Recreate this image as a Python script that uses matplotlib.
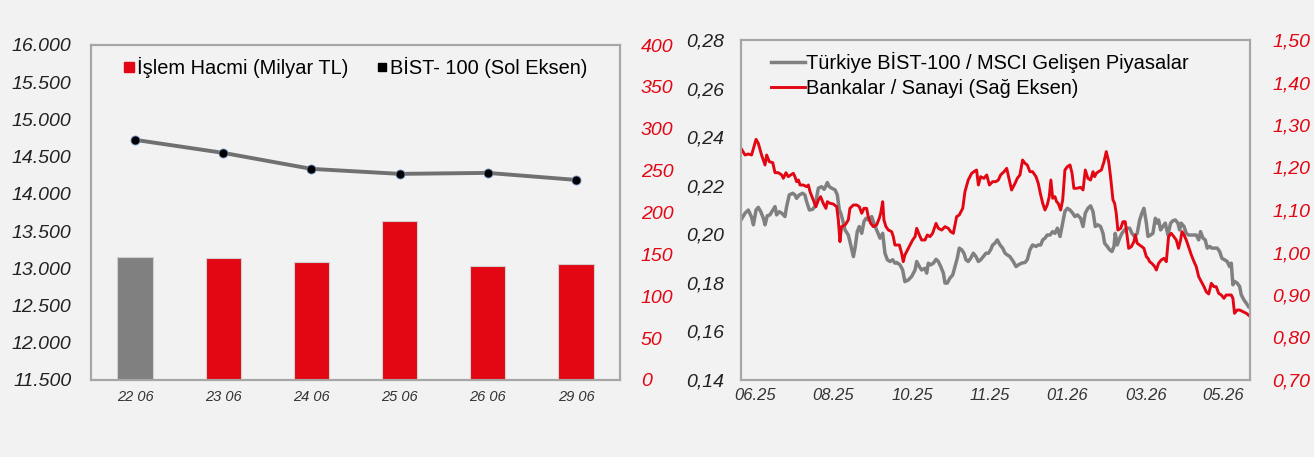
import matplotlib
matplotlib.use("Agg")
import matplotlib.pyplot as plt
from matplotlib.lines import Line2D
from matplotlib.ticker import FuncFormatter

plt.rcParams['font.family'] = ['Liberation Sans', 'DejaVu Sans']

# --- left chart data ---
days = ['22 06', '23 06', '24 06', '25 06', '26 06', '29 06']
volume = [147, 146, 140.5, 189.5, 136, 138.5]        # İşlem Hacmi (Milyar TL)
bist100 = [14726, 14551, 14336, 14269, 14282, 14188]  # BİST-100
bar_colors = ['#808080'] + ['#e30613'] * 5

# --- right chart data (trading-day index, value) ---
gray_d = [0, 2.0, 3.6, 5.2, 6.1, 7.4, 8.5, 9.7, 11.0, 11.8, 12.9, 14.2, 15.9, 16.7, 17.5, 18.8,
          20.0, 21.6, 22.4, 23.7, 25.4, 26.5, 27.3, 28.6, 30.3, 31.4, 32.2, 33.6, 35.2, 36.3,
          38.0, 39.6, 40.8, 41.7, 42.4, 43.4, 44.5, 46.2, 47.3, 48.3, 49.0, 49.9, 51.1, 52.7,
          53.9, 55.2, 56.0, 57.1, 58.1, 59.3, 60.4, 61.4, 62.5, 63.4, 64.2, 65.0, 66.6, 68.3,
          69.6, 70.7, 71.9, 73.2, 74.5, 75.6, 76.5, 78.1, 79.4, 80.5, 82.2, 83.8, 85.5, 86.3,
          87.6, 88.7, 90.4, 91.2, 92.0, 93.1, 94.5, 95.8, 96.9, 98.1, 99.4, 100.2, 101.3, 102.6,
          104.0, 105.1, 106.2, 107.2, 108.4, 109.5, 110.5, 111.6, 112.8, 114.1, 115.4, 116.6,
          117.7, 119.0, 120.3, 121.5, 122.6, 123.6, 124.7, 125.9, 127.2, 128.5, 129.7, 130.8,
          132.1, 133.7, 135.1, 136.2, 137.8, 139.5, 140.6, 141.9, 143.2, 144.9, 146.0, 147.2,
          148.2, 149.3, 150.4, 151.8, 153.1, 154.2, 155.4, 156.7, 158.0, 159.1, 160.3, 161.6,
          162.9, 164.0, 165.2, 166.8, 168.0, 169.1, 170.4, 171.7, 172.9, 174.0, 175.3, 176.6,
          177.8, 178.6, 179.9, 181.1, 182.2, 183.2, 183.8, 184.8, 186.0, 187.1, 188.4, 189.7,
          190.9, 192.0, 193.3, 194.6, 195.8, 196.9, 197.9, 199.1, 199.9, 201.2, 202.3, 203.5,
          204.5, 205.1, 206.1, 207.2, 208.4, 209.7, 211.0, 212.2, 213.3, 214.6, 215.4, 216.2,
          217.6, 218.7, 219.8, 221.2, 222.5, 223.6, 224.8, 225.7, 226.9, 228.0, 229.0, 230.2,
          231.3, 232.6, 233.9, 235.1, 236.2, 237.5, 238.8, 240.0, 240.8, 241.6, 242.4, 243.7,
          244.9, 245.7, 247.0, 248.2, 249.3]
gray_v = [0.2059, 0.2087, 0.2100, 0.2070, 0.2039, 0.2100, 0.2111, 0.2093, 0.2066, 0.2039, 0.2076,
          0.2080, 0.2103, 0.2114, 0.2080, 0.2093, 0.2087, 0.2073, 0.2114, 0.2162, 0.2169, 0.2162,
          0.2148, 0.2162, 0.2169, 0.2162, 0.2135, 0.2100, 0.2103, 0.2114, 0.2190, 0.2196, 0.2185,
          0.2199, 0.2213, 0.2196, 0.2190, 0.2183, 0.2162, 0.2100, 0.2087, 0.2059, 0.2018, 0.1997,
          0.1956, 0.1908, 0.1943, 0.2011, 0.2032, 0.2004, 0.2052, 0.2066, 0.2059, 0.2066, 0.2073,
          0.2052, 0.2018, 0.1984, 0.2004, 0.1922, 0.1895, 0.1888, 0.1895, 0.1881, 0.1884, 0.1874,
          0.1853, 0.1805, 0.1812, 0.1826, 0.1853, 0.1888, 0.1867, 0.1853, 0.1860, 0.1840, 0.1881,
          0.1874, 0.1881, 0.1897, 0.1888, 0.1867, 0.1840, 0.1799, 0.1799, 0.1819, 0.1833, 0.1867,
          0.1901, 0.1943, 0.1936, 0.1922, 0.1895, 0.1888, 0.1901, 0.1922, 0.1908, 0.1888, 0.1895,
          0.1908, 0.1922, 0.1922, 0.1936, 0.1956, 0.1963, 0.1977, 0.1956, 0.1943, 0.1922, 0.1915,
          0.1908, 0.1888, 0.1867, 0.1874, 0.1881, 0.1884, 0.1895, 0.1936, 0.1956, 0.1950, 0.1956,
          0.1956, 0.1977, 0.1984, 0.1997, 0.1997, 0.2011, 0.2004, 0.2025, 0.1991, 0.2046, 0.2094,
          0.2107, 0.2100, 0.2087, 0.2073, 0.2080, 0.2066, 0.2032, 0.2087, 0.2107, 0.2117, 0.2093,
          0.2032, 0.2039, 0.2032, 0.2004, 0.1963, 0.1950, 0.1936, 0.1929, 0.1950, 0.2004, 0.1956,
          0.1984, 0.2004, 0.2018, 0.2025, 0.2025, 0.2004, 0.1991, 0.2004, 0.2059, 0.2087, 0.2107,
          0.2046, 0.1991, 0.1997, 0.2004, 0.2066, 0.2046, 0.2059, 0.2018, 0.2032, 0.2046, 0.1997,
          0.2046, 0.2056, 0.2059, 0.2046, 0.2018, 0.2046, 0.2032, 0.2004, 0.1997, 0.1997, 0.1997,
          0.1997, 0.1977, 0.2011, 0.1984, 0.1977, 0.1943, 0.1950, 0.1943, 0.1943, 0.1943, 0.1929,
          0.1901, 0.1895, 0.1888, 0.1867, 0.1881, 0.1792, 0.1806, 0.1799, 0.1785, 0.1751, 0.1730,
          0.1716, 0.1702]

red_d = [0, 2.0, 3.6, 5.2, 7.4, 8.5, 10.1, 11.8, 12.6, 13.9, 15.6, 16.7, 18.3, 20.0, 20.8, 22.1,
         23.2, 24.4, 25.7, 26.5, 27.3, 28.2, 29.0, 30.6, 32.2, 33.1, 33.9, 35.5, 36.8, 38.0, 39.1,
         40.4, 41.7, 42.4, 43.7, 45.3, 47.0, 47.8, 48.6, 49.4, 51.1, 52.7, 53.5, 55.2, 56.8, 58.1,
         59.3, 60.4, 61.7, 62.5, 63.7, 65.0, 66.6, 67.9, 68.6, 69.6, 70.2, 71.2, 72.4, 74.0, 74.8,
         75.6, 76.8, 77.8, 78.9, 79.7, 80.5, 82.2, 84.3, 85.5, 86.3, 87.6, 88.7, 90.4, 91.5, 92.8,
         94.1, 95.8, 96.9, 98.6, 100.2, 101.8, 103.0, 104.3, 105.9, 107.2, 108.9, 110.0, 111.6,
         113.3, 114.4, 115.7, 116.6, 117.7, 119.3, 120.7, 122.0, 123.6, 125.2, 126.4, 127.5, 129.2,
         130.5, 131.8, 132.9, 134.6, 135.7, 137.0, 138.3, 139.5, 140.6, 141.9, 143.2, 144.9, 146.0,
         147.2, 148.2, 149.3, 150.4, 151.4, 152.2, 153.1, 154.2, 155.0, 155.8, 157.0, 158.0, 159.1,
         160.3, 161.6, 162.6, 163.5, 164.9, 166.8, 168.0, 169.1, 170.4, 171.7, 172.9, 173.7, 174.5,
         175.6, 177.0, 178.3, 179.4, 180.6, 181.5, 182.7, 183.5, 184.3, 185.1, 186.5, 187.6, 188.7,
         189.7, 190.4, 191.7, 193.0, 193.7, 194.6, 195.8, 196.9, 197.9, 199.1, 199.9, 200.7, 201.8,
         203.2, 204.0, 205.1, 206.4, 207.7, 208.9, 210.0, 211.3, 212.6, 213.8, 214.9, 215.9, 216.6,
         217.6, 218.7, 219.8, 221.2, 222.5, 223.6, 224.8, 226.1, 227.4, 228.5, 229.7, 231.0, 232.3,
         233.4, 234.6, 235.9, 237.2, 238.3, 239.5, 240.8, 241.6, 242.4, 243.7, 244.9, 246.5, 248.2,
         249.8]
red_v = [1.2451, 1.2294, 1.2318, 1.2294, 1.2663, 1.2569, 1.2294, 1.2059, 1.2294, 1.2137, 1.2114,
         1.1878, 1.1878, 1.1824, 1.1745, 1.1878, 1.1784, 1.1824, 1.1863, 1.1784, 1.1667, 1.1706,
         1.1588, 1.1588, 1.1549, 1.1588, 1.1431, 1.1235, 1.1078, 1.1235, 1.1314, 1.1157, 1.1039,
         1.1196, 1.1157, 1.1141, 1.1078, 1.0765, 1.0255, 1.0608, 1.0647, 1.0765, 1.1039, 1.1118,
         1.1118, 1.1078, 1.0922, 1.1039, 1.1039, 1.0843, 1.0686, 1.0608, 1.0647, 1.0804, 1.0922,
         1.1196, 1.0765, 1.0608, 1.0529, 1.0490, 1.0373, 1.0176, 1.0176, 1.0176, 0.9980, 0.9784,
         0.9941, 1.0098, 1.0294, 1.0373, 1.0569, 1.0412, 1.0294, 1.0294, 1.0412, 1.0373, 1.0451,
         1.0686, 1.0569, 1.0529, 1.0608, 1.0569, 1.0490, 1.0451, 1.0843, 1.0882, 1.1039, 1.1431,
         1.1706, 1.1863, 1.1902, 1.1941, 1.1588, 1.1784, 1.1745, 1.1824, 1.1588, 1.1667, 1.1667,
         1.1706, 1.1824, 1.1902, 1.1980, 1.1706, 1.1471, 1.1627, 1.1745, 1.1824, 1.2176, 1.2098,
         1.2059, 1.1902, 1.1902, 1.1784, 1.1627, 1.1353, 1.1157, 1.1000, 1.1118, 1.1314, 1.1706,
         1.1275, 1.1314, 1.1196, 1.1157, 1.1000, 1.1235, 1.1941, 1.2020, 1.2059, 1.1863, 1.1510,
         1.1510, 1.1533, 1.1471, 1.1941, 1.1745, 1.1706, 1.1902, 1.1784, 1.1863, 1.1902, 1.1941,
         1.2137, 1.2373, 1.2137, 1.1784, 1.1235, 1.1157, 1.0922, 1.0529, 1.0569, 1.0725, 1.0725,
         1.0373, 1.0098, 1.0137, 1.0255, 1.0412, 1.0216, 1.0176, 1.0137, 1.0098, 0.9902, 0.9863,
         0.9784, 0.9745, 0.9667, 0.9588, 0.9745, 0.9824, 0.9863, 0.9784, 1.0373, 1.0451, 1.0373,
         1.0294, 1.0098, 1.0294, 1.0490, 1.0412, 1.0294, 1.0137, 0.9941, 0.9784, 0.9667, 0.9431,
         0.9314, 0.9196, 0.9078, 0.9024, 0.9275, 0.9196, 0.9196, 0.9039, 0.9000, 0.8922, 0.9000,
         0.9000, 0.9000, 0.8922, 0.8569, 0.8647, 0.8647, 0.8608, 0.8569, 0.8506]

month_pos = [7, 45, 84, 122, 160, 199, 237]
month_labels = ['06.25', '08.25', '10.25', '11.25', '01.26', '03.26', '05.26']

BG = '#f2f2f2'
RED = '#e30613'
FRAME = '#a6a6a6'

fig = plt.figure(figsize=(13.14, 4.57), dpi=100, facecolor=BG)

def style_box(ax):
    for s in ax.spines.values():
        s.set_color(FRAME)
        s.set_linewidth(1.5)

# ---------------- left chart ----------------
ax1 = fig.add_axes([91/1314, 1-380/457, (620-91)/1314, (380-45)/457])
ax1b = ax1.twinx()
ax1.set_zorder(ax1b.get_zorder() + 1)
ax1.patch.set_visible(False)
ax1b.set_facecolor(BG)

x = range(len(days))
ax1b.bar(x, volume, width=0.4, color=bar_colors, edgecolor='#d0d0d0', linewidth=0.8)
ax1.plot(x, bist100, color='#707070', lw=2.8, marker='o', markersize=6.5,
         markerfacecolor='black', markeredgecolor='#6f8fc0', markeredgewidth=0.6)

ax1.set_xlim(-0.5, 5.5)
ax1.set_ylim(11500, 16000)
ax1.set_yticks(range(11500, 16001, 500))
ax1.yaxis.set_major_formatter(FuncFormatter(lambda v, p: f'{int(v):,}'.replace(',', '.')))
ax1b.set_ylim(0, 400)
ax1b.set_yticks(range(0, 401, 50))
ax1.set_xticks(list(x))
ax1.set_xticklabels(days)

ax1.tick_params(axis='y', length=0, labelsize=14, labelcolor='#222222', pad=14)
ax1.tick_params(axis='x', length=0, labelsize=10.5, labelcolor='#333333', pad=7)
ax1b.tick_params(axis='y', length=0, labelsize=14, labelcolor=RED, pad=15)
for t in ax1.get_yticklabels() + ax1.get_xticklabels() + ax1b.get_yticklabels():
    t.set_fontstyle('italic')
style_box(ax1)
style_box(ax1b)

h1 = [Line2D([], [], ls='none', marker='s', markersize=7.5, color=RED),
      Line2D([], [], ls='none', marker='s', markersize=6, color='black')]
ax1.legend(h1, ['İşlem Hacmi (Milyar TL)', 'BİST- 100 (Sol Eksen)'], loc='upper center',
           ncol=2, frameon=False, fontsize=14.4, handlelength=0.5, handletextpad=0.15,
           columnspacing=1.4, borderaxespad=0.2, bbox_to_anchor=(0.5, 1.0))

# ---------------- right chart ----------------
ax2 = fig.add_axes([741/1314, 1-380/457, (1250-741)/1314, (380-40)/457])
ax2.set_facecolor(BG)
ax2b = ax2.twinx()
ax2.plot(gray_d, gray_v, color='#808080', lw=2.5)
ax2b.plot(red_d, red_v, color=RED, lw=2.1)

ax2.set_xlim(0, 250)
ax2.set_ylim(0.14, 0.28)
ax2.set_yticks([0.14 + 0.02 * i for i in range(8)])
ax2.yaxis.set_major_formatter(FuncFormatter(lambda v, p: f'{v:.2f}'.replace('.', ',')))
ax2b.set_ylim(0.70, 1.50)
ax2b.set_yticks([0.70 + 0.10 * i for i in range(9)])
ax2b.yaxis.set_major_formatter(FuncFormatter(lambda v, p: f'{v:.2f}'.replace('.', ',')))
ax2.set_xticks(month_pos)
ax2.set_xticklabels(month_labels)

ax2.tick_params(axis='y', length=0, labelsize=14, labelcolor='#222222', pad=12)
ax2.tick_params(axis='x', length=0, labelsize=12, labelcolor='#333333', pad=6)
ax2b.tick_params(axis='y', length=0, labelsize=14, labelcolor=RED, pad=16)
for t in ax2.get_yticklabels() + ax2.get_xticklabels() + ax2b.get_yticklabels():
    t.set_fontstyle('italic')
style_box(ax2)
style_box(ax2b)

h2 = [Line2D([], [], color='#808080', lw=2.5), Line2D([], [], color=RED, lw=2.1)]
ax2.legend(h2, ['Türkiye BİST-100 / MSCI Gelişen Piyasalar', 'Bankalar / Sanayi (Sağ Eksen)'],
           loc='upper left', frameon=False, fontsize=14.4, handlelength=1.7, handletextpad=0.05,
           labelspacing=0.3, borderaxespad=0.2, bbox_to_anchor=(0.035, 1.0))

fig.savefig('out.png', dpi=100, facecolor=BG)
